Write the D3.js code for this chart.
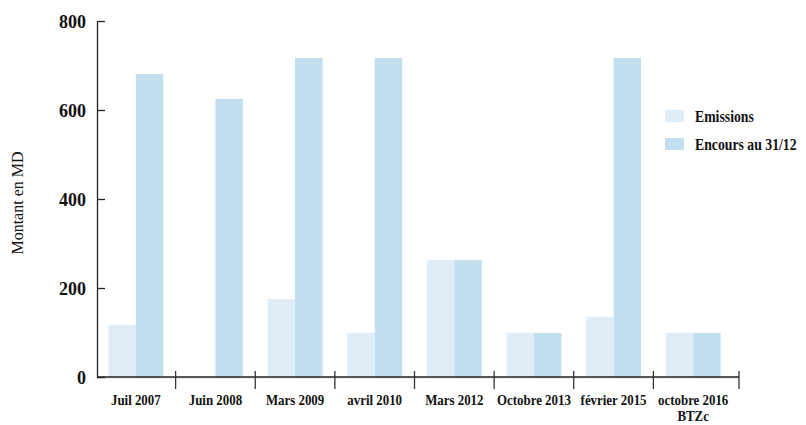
<!DOCTYPE html>
<html lang="fr">
<head>
<meta charset="utf-8">
<title>Emissions et encours</title>
<script src="https://d3js.org/d3.v7.min.js"></script>
<style>
  body { margin: 0; background: #fff; }
  text { font-family: "Liberation Serif", "Times New Roman", serif; fill: #111; }
</style>
</head>
<body>
<script>
// data
var categories = ["Juil 2007", "Juin 2008", "Mars 2009", "avril 2010", "Mars 2012", "Octobre 2013", "février 2015", "octobre 2016\nBTZc"];
var seriesNames = ["Emissions", "Encours au 31/12"];
var emissions = [117, 0, 175, 99, 263, 99, 135, 99];
var encours = [681, 625, 717, 717, 263, 99, 717, 99];
var yTicks = [0, 200, 400, 600, 800];
var colors = ["#e0edf6", "#c3dfef"];

var w = 806, h = 425;
var x0 = 97, xEnd = 739, yTop = 21, yBase = 377;

var svg = d3.select("body").append("svg")
  .attr("width", w)
  .attr("height", h);

var x = d3.scaleBand()
  .domain(categories)
  .range([96, 733])
  .paddingInner(0.31)
  .paddingOuter(0.155);

var x1 = d3.scaleBand()
  .domain(seriesNames)
  .range([0, x.bandwidth()]);

var y = d3.scaleLinear()
  .domain([0, 800])
  .range([yBase, yTop]);

var rows = categories.map(function(c, i) {
  return { cat: c, values: [emissions[i], encours[i]] };
});

// faint baseline under the bars
svg.append("line")
  .attr("x1", x0).attr("x2", xEnd)
  .attr("y1", yBase + 1).attr("y2", yBase + 1)
  .attr("stroke", "#ddd");

// bars
var groups = svg.selectAll("g.grp")
  .data(rows)
  .enter().append("g")
  .attr("class", "grp")
  .attr("transform", function(d) { return "translate(" + x(d.cat) + ",0)"; });

groups.selectAll("rect")
  .data(function(d) { return d.values.map(function(v, k) { return { k: k, v: v }; }); })
  .enter().append("rect")
  .attr("x", function(d) { return x1(seriesNames[d.k]); })
  .attr("width", x1.bandwidth())
  .attr("y", function(d) { return y(d.v); })
  .attr("height", function(d) { return yBase - y(d.v); })
  .attr("fill", function(d) { return colors[d.k]; });

// y axis, ticks pointing inward
var yAxis = d3.axisLeft(y)
  .tickValues(yTicks)
  .tickSize(-8)
  .tickSizeOuter(0)
  .tickPadding(11);

var gy = svg.append("g")
  .attr("transform", "translate(" + x0 + ",0)")
  .call(yAxis);
gy.select(".domain").attr("stroke", "#222").attr("stroke-width", 1.3);
gy.selectAll(".tick line").attr("stroke", "#222").attr("stroke-width", 1.3);
gy.selectAll(".tick text")
  .style("font-size", "18px")
  .style("font-weight", "bold")
  .attr("dy", "0.35em");

// x axis line and separators
svg.append("line")
  .attr("x1", x0).attr("x2", xEnd)
  .attr("y1", yBase).attr("y2", yBase)
  .attr("stroke", "#222").attr("stroke-width", 1.5);

var sepX = categories.slice(0, -1).map(function(c) { return x(c) + x.bandwidth() / 2 + x.step() / 2; });
sepX.push(xEnd);
svg.selectAll("line.sep")
  .data(sepX)
  .enter().append("line")
  .attr("class", "sep")
  .attr("x1", function(d) { return d; })
  .attr("x2", function(d) { return d; })
  .attr("y1", yBase - 6)
  .attr("y2", yBase + 12)
  .attr("stroke", "#333").attr("stroke-width", 1.3);

// x labels (last one on two lines)
var labels = svg.selectAll("g.xlab")
  .data(categories)
  .enter().append("g")
  .attr("class", "xlab")
  .attr("transform", function(d) { return "translate(" + (x(d) + x.bandwidth() / 2) + "," + (yBase + 28) + ")"; });

labels.append("text")
  .attr("text-anchor", "middle")
  .attr("transform", "scale(0.86,1)")
  .style("font-size", "15px")
  .style("font-weight", "bold")
  .each(function(d) {
    var t = d3.select(this);
    d.split("\n").forEach(function(line, i) {
      t.append("tspan")
        .attr("x", 0)
        .attr("dy", i === 0 ? 0 : 16)
        .text(line);
    });
  });

// y title
svg.append("text")
  .attr("transform", "translate(23,203) rotate(-90)")
  .attr("text-anchor", "middle")
  .style("font-size", "16px")
  .text("Montant en MD");

// legend
var legend = svg.selectAll("g.leg")
  .data(seriesNames)
  .enter().append("g")
  .attr("class", "leg")
  .attr("transform", function(d, i) { return "translate(665," + (110 + i * 28) + ")"; });

legend.append("rect")
  .attr("width", 19)
  .attr("height", 12)
  .attr("fill", function(d, i) { return colors[i]; });

legend.append("text")
  .attr("transform", "translate(30,6) scale(0.86,1)")
  .attr("dy", "0.35em")
  .style("font-size", "16px")
  .style("font-weight", "bold")
  .text(function(d) { return d; });
</script>
</body>
</html>
